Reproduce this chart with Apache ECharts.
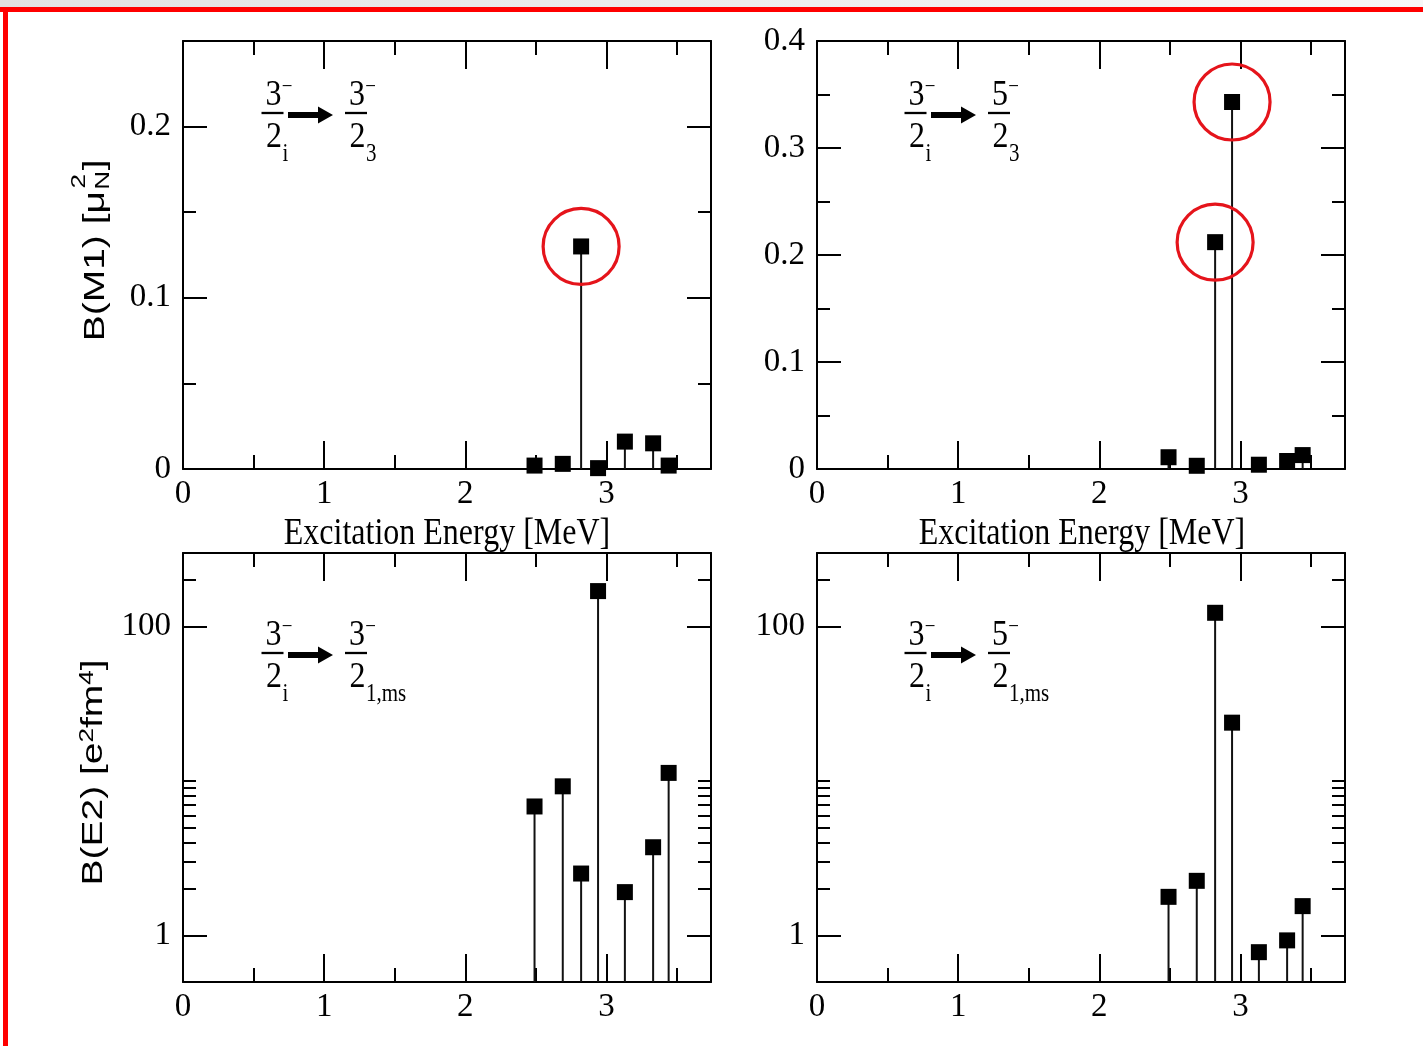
<!DOCTYPE html>
<html><head><meta charset="utf-8">
<script src="https://cdn.jsdelivr.net/npm/echarts@6/dist/echarts.min.js"></script>
<style>html,body{margin:0;padding:0;background:#fff}#c{width:1423px;height:1046px}</style>
</head><body><div id="c"></div>
<script>
// ---------------- data ----------------
const energies = [2.49, 2.69, 2.82, 2.94, 3.13, 3.33, 3.44];           // MeV
const bm1_to32 = [0.002, 0.003, 0.130, 0.0005, 0.016, 0.015, 0.002];    // B(M1) 3/2-_i -> 3/2-_3
const bm1_to52 = [0.011, 0.003, 0.212, 0.343, 0.004, 0.0075, 0.013];    // B(M1) 3/2-_i -> 5/2-_3
const be2_to32ms = [6.85, 9.25, 2.52, 170, 1.91, 3.73, 11.3];           // B(E2) 3/2-_i -> 3/2-_1,ms
const be2_to52ms = [1.78, 2.26, 123, 23.9, 0.78, 0.93, 1.55];           // B(E2) 3/2-_i -> 5/2-_1,ms
const circled_m1_to32 = [2];
const circled_m1_to52 = [2, 3];

const xMajorTicks = [0, 1, 2, 3];
const xMinorTicks = [0.5, 1.5, 2.5, 3.5];
const m1aMajor = [0, 0.1, 0.2];
const m1aMinor = [0.05, 0.15, 0.25];
const m1bMajor = [0, 0.1, 0.2, 0.3, 0.4];
const m1bMinor = [0.05, 0.15, 0.25, 0.35];
const e2Major = [1, 100];
const e2Minor = [2, 3, 4, 5, 6, 7, 8, 9, 10, 200];

// ---------------- layout / style ----------------
const SERIF = "'Liberation Serif','Times New Roman',serif";
const SANS = "'Liberation Sans',Arial,sans-serif";
const X_MAX = 3.74;
const E2_MIN = 0.5, E2_MAX = 300;

const grids = [
  {left: 183, top: 41, width: 528, height: 428},
  {left: 817, top: 41, width: 528, height: 428},
  {left: 183, top: 553, width: 528, height: 429},
  {left: 817, top: 553, width: 528, height: 429}
].map(g => Object.assign({containLabel: false, outerBoundsMode: 'none'}, g));

const LINE = {color: '#000', width: 2};
function tickAxis(common, position, ticks, len, withLine, labels, labelMargin) {
  return Object.assign({}, common, {
    position: position,
    splitLine: {show: false},
    axisLine: {show: withLine, onZero: false, lineStyle: LINE},
    axisTick: {show: true, inside: true, length: len, customValues: ticks, lineStyle: LINE},
    minorTick: {show: false},
    axisLabel: labels ? {show: true, customValues: labels, margin: labelMargin, color: '#000',
      fontFamily: SERIF, fontSize: 33, formatter: v => String(v)} : {show: false}
  });
}
function xAxesFor(g) {
  const c = {type: 'value', gridIndex: g, min: 0, max: X_MAX};
  return [
    tickAxis(c, 'bottom', xMajorTicks, 28, true, xMajorTicks, 9),
    tickAxis(c, 'bottom', xMinorTicks, 14, false, null),
    tickAxis(c, 'top', xMajorTicks, 28, true, null),
    tickAxis(c, 'top', xMinorTicks, 14, false, null)
  ];
}
function yAxesFor(g, c, major, minor) {
  c = Object.assign({gridIndex: g}, c);
  return [
    tickAxis(c, 'left', major, 24, true, major, 12),
    tickAxis(c, 'left', minor, 13, false, null),
    tickAxis(c, 'right', major, 24, true, null),
    tickAxis(c, 'right', minor, 13, false, null)
  ];
}
const xAxis = [].concat(xAxesFor(0), xAxesFor(1), xAxesFor(2), xAxesFor(3));
const yAxis = [].concat(
  yAxesFor(0, {type: 'value', min: 0, max: 0.25}, m1aMajor, m1aMinor),
  yAxesFor(1, {type: 'value', min: 0, max: 0.4}, m1bMajor, m1bMinor),
  yAxesFor(2, {type: 'log', logBase: 10, min: E2_MIN, max: E2_MAX}, e2Major, e2Minor),
  yAxesFor(3, {type: 'log', logBase: 10, min: E2_MIN, max: E2_MAX}, e2Major, e2Minor)
);

function stemRenderer(base) {
  return function (params, api) {
    const x = api.value(0), y = api.value(1);
    const p0 = api.coord([x, base]);
    const p1 = api.coord([x, y]);
    return {type: 'line', shape: {x1: p0[0], y1: p0[1], x2: p1[0], y2: p1[1]},
      style: {stroke: '#111', lineWidth: 2}};
  };
}
function panelSeries(g, vals, base, circled) {
  const pts = energies.map((e, i) => [e, vals[i]]);
  const out = [
    {type: 'custom', xAxisIndex: g * 4, yAxisIndex: g * 4, data: pts, encode: {x: 0, y: 1},
      renderItem: stemRenderer(base), silent: true, z: 2},
    {type: 'scatter', xAxisIndex: g * 4, yAxisIndex: g * 4, data: pts, symbol: 'rect',
      symbolSize: 16, itemStyle: {color: '#000', opacity: 1}, silent: true, z: 3}
  ];
  if (circled && circled.length) {
    out.push({type: 'scatter', xAxisIndex: g * 4, yAxisIndex: g * 4,
      data: circled.map(i => pts[i]), symbol: 'circle', symbolSize: 76,
      itemStyle: {color: 'rgba(0,0,0,0)', borderColor: '#e5141b', borderWidth: 3.2, opacity: 1},
      silent: true, z: 4});
  }
  return out;
}
const series = [].concat(
  panelSeries(0, bm1_to32, 0, circled_m1_to32),
  panelSeries(1, bm1_to52, 0, circled_m1_to52),
  panelSeries(2, be2_to32ms, E2_MIN, null),
  panelSeries(3, be2_to52ms, E2_MIN, null)
);

// ---------------- annotations ----------------
function txt(x, y, text, size, family, align, extra) {
  return {type: 'text', x: x, y: y, silent: true, style: Object.assign({text: text,
    fontSize: size, fontFamily: family, fill: '#000', align: align || 'center',
    verticalAlign: 'middle'}, extra || {})};
}
function fraction(cx, barY, num, sub, subSize) {
  return {type: 'group', x: cx, y: barY, scaleY: 1.15, silent: true, children: [
    txt(1, -15, num, 32, SERIF),
    txt(14.5, -22, '\u2212', 19, SERIF),
    {type: 'line', shape: {x1: -11, y1: 0, x2: 11, y2: 0}, style: {stroke: '#000', lineWidth: 2}},
    txt(1.5, 21, '2', 32, SERIF),
    txt(10, 36, sub, subSize || 21, SERIF, 'left')
  ]};
}
function arrow(x0, x1, y) {
  return {type: 'polygon', silent: true, shape: {points: [
    [x0, y - 3], [x1 - 15, y - 3], [x1 - 15, y - 8.5], [x1, y], [x1 - 15, y + 8.5], [x1 - 15, y + 3], [x0, y + 3]
  ]}, style: {fill: '#000'}};
}
function transition(dx, dy, num2, sub2) {
  return [
    fraction(272.5 + dx, 113 + dy, '3', 'i', 21),
    arrow(288 + dx, 333 + dx, 115 + dy),
    fraction(356 + dx, 113 + dy, num2, sub2, 21)
  ];
}

const graphic = [
  {type: 'rect', silent: true, shape: {x: 0, y: 0, width: 1423, height: 8},
    style: {fill: new echarts.graphic.LinearGradient(0, 0, 1, 0, [
      {offset: 0, color: '#e2e2e2'}, {offset: 1, color: '#f7f7f7'}])}},
  {type: 'rect', silent: true, shape: {x: 0, y: 7, width: 1423, height: 5}, style: {fill: '#ff0000'}},
  {type: 'rect', silent: true, shape: {x: 3, y: 7, width: 5, height: 1039}, style: {fill: '#ff0000'}},
  // x-axis titles
  {type: 'group', x: 447, y: 534, scaleY: 1.2, silent: true, children: [
    txt(0, 0, 'Excitation Energy [MeV]', 32, SERIF)]},
  {type: 'group', x: 1082, y: 534, scaleY: 1.2, silent: true, children: [
    txt(0, 0, 'Excitation Energy [MeV]', 32, SERIF)]},
  // y-axis titles
  {type: 'group', x: 96, y: 191, rotation: Math.PI / 2, scaleX: 1.3, silent: true, children: [
    txt(0, 0, 'B(M1) [\u03bc', 30, SANS, 'right'),
    txt(1, 7, 'N', 20, SANS, 'left'),
    txt(2, -17, '2', 20, SANS, 'left'),
    txt(16, 0, ']', 30, SANS, 'left')
  ]},
  {type: 'group', x: 94, y: 772.5, rotation: Math.PI / 2, scaleX: 1.3, silent: true, children: [
    {type: 'text', x: 0, y: 0, silent: true, style: {
      text: '{m|B(E2) [e}{s|2}{m|fm}{s|4}{m|]}', align: 'center', verticalAlign: 'middle', fill: '#000',
      rich: {m: {fontSize: 30, fontFamily: SANS, lineHeight: 34, fill: '#000'},
             s: {fontSize: 20, fontFamily: SANS, verticalAlign: 'top', lineHeight: 34, fill: '#000'}}}}
  ]}
].concat(
  transition(0, 0, '3', '3'),
  transition(643, 0, '5', '3'),
  transition(0, 540, '3', '1,ms'),
  transition(643, 540, '5', '1,ms')
);

const chart = echarts.init(document.getElementById('c'), null, {renderer: 'canvas', width: 1423, height: 1046});
chart.setOption({
  animation: false,
  backgroundColor: '#ffffff',
  grid: grids,
  xAxis: xAxis,
  yAxis: yAxis,
  series: series,
  graphic: graphic
});
</script>
</body></html>
